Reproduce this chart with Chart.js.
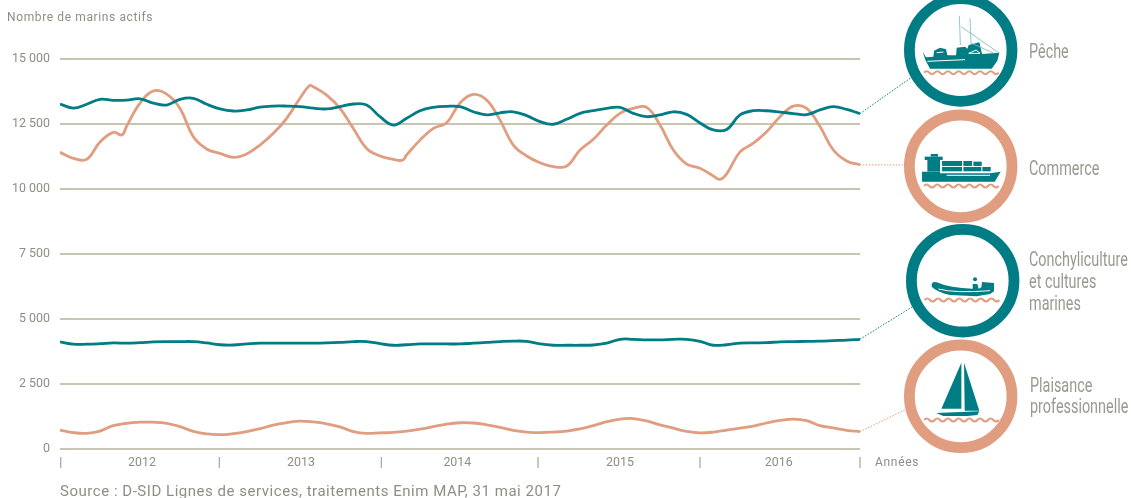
<!DOCTYPE html>
<html lang="fr">
<head>
<meta charset="utf-8">
<title>Nombre de marins actifs</title>
<script src="https://cdn.jsdelivr.net/npm/chart.js@4"></script>
<style>html,body{margin:0;padding:0;background:#fff;overflow:hidden}canvas{display:block}</style>
</head>
<body>
<canvas id="c" width="1131" height="498"></canvas>
<script>
const months = [0,1,2,3,4,5,6,7,8,9,10,11,12,13,14,15,16,17,18,19,20,21,22,23,24,25,26,27,28,29,30,31,32,33,34,35,36,37,38,39,40,41,42,43,44,45,46,47,48,49,50,51,52,53,54,55,56,57,58,59,60];
const commerceMonths = [0,1,2,3,4,4.65,5,6,7,8,9,10,11,12,13,14,15,16,17,18,18.7,19,20,21,22,23,24,25,25.7,26,27,28,29,30,31,32,33,34,35,36,37,38,39,40,41,42,43,44,45,46,47,48,49,49.5,50,51,52,53,54,55,56,57,58,59,60];
const peche = [13270,13110,13260,13450,13410,13420,13470,13300,13230,13450,13490,13260,13080,13000,13040,13150,13190,13190,13170,13110,13080,13170,13270,13230,12780,12460,12720,13010,13140,13180,13170,12970,12850,12930,12970,12820,12590,12490,12680,12910,13010,13100,13140,12910,12780,12850,12970,12870,12540,12270,12290,12850,13010,13010,12960,12900,12860,13040,13170,13060,12900];
const commerce = [11410,11180,11140,11810,12180,12080,12420,13300,13770,13650,13100,12010,11540,11370,11220,11350,11690,12140,12720,13490,13970,13930,13610,13100,12330,11560,11270,11140,11110,11310,11880,12330,12550,13310,13640,13420,12650,11690,11270,11010,10860,10880,11500,11910,12460,12910,13100,13140,12460,11500,10960,10800,10500,10370,10580,11430,11760,12200,12780,13190,13100,12400,11500,11080,10930];
const conchyliculture = [4120,4030,4030,4050,4080,4070,4090,4120,4130,4130,4130,4080,4010,4000,4040,4070,4070,4070,4070,4070,4080,4100,4130,4130,4050,3990,4010,4040,4040,4040,4040,4070,4100,4130,4150,4140,4040,3990,3990,3990,4000,4070,4220,4220,4200,4200,4220,4220,4140,3990,4010,4070,4080,4090,4120,4130,4140,4150,4170,4190,4220];
const plaisance = [730,630,600,690,900,990,1030,1030,990,860,680,580,550,590,670,780,920,1010,1070,1040,970,850,670,600,620,640,690,760,860,960,1010,1000,930,830,720,650,630,650,690,770,900,1050,1150,1170,1080,930,800,680,620,650,730,800,880,1000,1100,1150,1090,900,810,720,670];
const yearTicks = [6.15,18.07,29.8,42,53.9];
const yearNames = ['2012','2013','2014','2015','2016'];
const yearEdges = [0.05,11.95,24.1,35.85,48,60];
const yTicks = {0:'0',2500:'2 500',5000:'5 000',7500:'7 500',10000:'10 000',12500:'12 500',15000:'15 000'};

const TEAL='#007c85', SALMON='#e09d7f', GRID='#c9c5b3', GREY='#8f8e85', LABEL='#9a998f';
const UI='Roboto, sans-serif';

const pts=(xs,ys)=>xs.map((x,i)=>({x,y:ys[i]}));
const wave=(x,y)=>`M${x} ${y} q8 -9 16 0`+' t16 0'.repeat(13);

const badges=[
 {name:'peche',cx:960.7,cy:50,ox:212,oy:150,ring:TEAL,wave:[102,218],end:[912,77],
  solid:['M98 155 L108 172 L130 170 L132 152 L150 143 L168 148 L172 166 L198 166 L200 143 L225 140 L232 146 L236 135 L268 127 L276 162 L328 158 L322 182 L305 206 L120 206 L106 180 Z'],
  thin:['M208 48 L211 135','M240 55 L243 135','M213 80 L326 158','M245 130 L312 160'],
  cut:['M112 184 L225 179','M140 158 L160 156','M236 160 L258 150 L270 160 Z']},
 {name:'commerce',cx:960.7,cy:166.3,ox:212,oy:499,ring:SALMON,wave:[102,558],end:[903,165],
  solid:['M96 515 L150 515 L150 520 L300 520 L332 515 L314 545 L96 545 Z',
         'M112 480 L150 480 L150 515 L112 515 Z','M104 470 L158 470 L158 480 L104 480 Z','M122 462 L144 462 L144 470 L122 470 Z',
         'M156 483 L216 483 L216 498 L156 498 Z','M220 483 L246 483 L246 498 L220 498 Z','M250 485 L275 485 L275 498 L250 498 Z',
         'M156 501 L216 501 L216 514 L156 514 Z','M220 501 L274 501 L274 514 L220 514 Z','M277 501 L302 501 L302 514 L277 514 Z'],
  thin:[],cut:['M170 526 L300 526']},
 {name:'conch',cx:962.7,cy:280.7,ox:218,oy:182,ring:TEAL,wave:[104,240],end:[912,307],
  solid:['M125 192 Q128 183 140 187 Q180 205 248 206 L248 192 L262 192 L266 206 L274 202 L276 186 L312 189 L312 214 L300 222 L260 229 L180 225 Q140 216 125 200 Z',
         'M249 178 A6 6 0 1 1 261 178 A6 6 0 1 1 249 178 Z'],
  thin:[],cut:['M145 207 Q195 220 300 212']},
 {name:'plaisance',cx:960.7,cy:396.3,ox:212,oy:529,ring:SALMON,wave:[102,600],end:[905,410],
  solid:['M214 428 L214 566 L154 566 Z','M222 428 L268 572 L224 572 Z','M138 579 L268 574 L262 585 L232 588 L160 588 Z'],
  thin:[],cut:[]}
];
const sideLabels=[
 {t:'Pêche',x:1029,y:58},{t:'Commerce',x:1029,y:175},
 {t:'Conchyliculture',x:1029,y:266},{t:'et cultures',x:1029,y:288},{t:'marines',x:1029,y:310},
 {t:'Plaisance',x:1030,y:392},{t:'professionnelle',x:1030,y:413}
];

const decor={
 id:'decor',
 afterDatasetsDraw(chart){
  const ctx=chart.ctx, xs=chart.scales.x, ys=chart.scales.y;
  ctx.save();
  const lastVals=[peche,commerce,conchyliculture,plaisance];
  badges.forEach((b,i)=>{
    const v=lastVals[i][lastVals[i].length-1];
    ctx.beginPath();ctx.setLineDash([1.5,1.5]);ctx.lineWidth=1;ctx.strokeStyle=b.ring;
    ctx.moveTo(xs.getPixelForValue(60),ys.getPixelForValue(v));ctx.lineTo(b.end[0],b.end[1]);ctx.stroke();
    ctx.setLineDash([]);
  });
  badges.forEach(b=>{
    ctx.beginPath();ctx.arc(b.cx,b.cy,51.3,0,Math.PI*2);ctx.lineWidth=10.8;ctx.strokeStyle=b.ring;ctx.stroke();
    ctx.save();
    ctx.translate(b.cx,b.cy);ctx.scale(1/3,1/3);ctx.translate(-b.ox,-b.oy);
    ctx.fillStyle=TEAL;
    b.solid.forEach(p=>ctx.fill(new Path2D(p)));
    ctx.strokeStyle='#7dbcc0';ctx.lineWidth=2.5;
    b.thin.forEach(p=>ctx.stroke(new Path2D(p)));
    ctx.strokeStyle='#fff';ctx.fillStyle='#fff';ctx.lineWidth=3;
    b.cut.forEach(p=>ctx.stroke(new Path2D(p)));
    ctx.strokeStyle=SALMON;ctx.lineWidth=6;
    ctx.stroke(new Path2D(wave(b.wave[0],b.wave[1])));
    ctx.restore();
  });
  ctx.textBaseline='alphabetic';ctx.textAlign='left';
  ctx.fillStyle=LABEL;ctx.font='400 20px '+UI;
  sideLabels.forEach(l=>{
    ctx.save();ctx.translate(l.x,l.y);ctx.scale(0.72,1);ctx.fillText(l.t,0,0);ctx.restore();
  });
  ctx.fillStyle=GREY;ctx.font='12px '+UI;ctx.letterSpacing='0.62px';
  ctx.fillText('Nombre de marins actifs',7,21);
  ctx.letterSpacing='0.7px';
  ctx.fillText('Années',875,466);
  ctx.font='15px '+UI;ctx.letterSpacing='0.53px';
  ctx.fillText('Source : D-SID Lignes de services, traitements Enim MAP, 31 mai 2017',60,496);
  ctx.restore();
 }
};

const line=(label,color,data,order)=>({label,data,order,borderColor:color,backgroundColor:color,borderWidth:2.8,pointRadius:0,tension:0.4,fill:false,borderCapStyle:'butt'});

new Chart(document.getElementById('c'),{
 type:'line',
 data:{datasets:[
  line('Pêche',TEAL,pts(months,peche),1),
  line('Commerce',SALMON,pts(commerceMonths,commerce),2),
  line('Conchyliculture et cultures marines',TEAL,pts(months,conchyliculture),1),
  line('Plaisance professionnelle',SALMON,pts(months,plaisance),2)
 ]},
 options:{
  responsive:false,animation:false,devicePixelRatio:1,
  parsing:false,normalized:true,
  layout:{padding:{top:59,right:271,left:0,bottom:0}},
  plugins:{legend:{display:false},title:{display:false},tooltip:{enabled:false}},
  scales:{
   x:{type:'linear',min:0,max:60,
      afterFit(s){s.height=49;},
      grid:{display:false},border:{display:false},
      afterBuildTicks(s){s.ticks=[...yearEdges,...yearTicks].sort((a,b)=>a-b).map(v=>({value:v}));},
      ticks:{autoSkip:false,maxRotation:0,padding:-2,color:GREY,font:{family:UI,size:12.4},
        callback:v=>{const i=yearTicks.indexOf(v);return i>=0?yearNames[i]:'|';}}},
   y:{type:'linear',min:0,max:15000,
      afterFit(s){s.width=60;},
      grid:{color:GRID,lineWidth:2,drawTicks:false},border:{display:false},
      ticks:{stepSize:2500,padding:10,color:GREY,font:{family:UI,size:12.4},
        callback:v=>yTicks[v]}}
  }
 },
 plugins:[decor]
});
</script>
</body>
</html>
